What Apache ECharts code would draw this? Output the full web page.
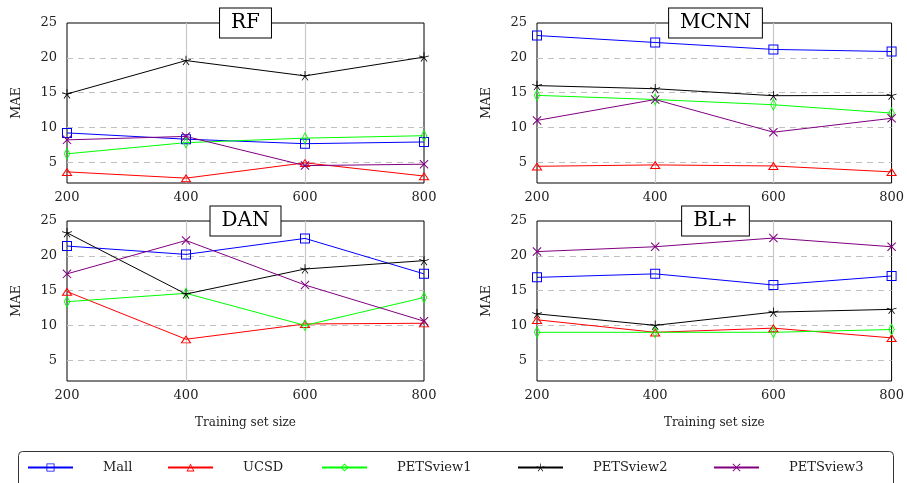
<!DOCTYPE html>
<html>
<head>
<meta charset="utf-8">
<script src="https://cdn.jsdelivr.net/npm/echarts@6/dist/echarts.min.js"></script>
<style>
  html, body { margin: 0; padding: 0; background: #fff; }
  #chart { width: 907px; height: 483px; }
</style>
</head>
<body>
<div id="chart"></div>
<script>
// 数据
var xValues = [200, 400, 600, 800];
var xTicks = [200, 400, 600, 800];
var yTicks = [5, 10, 15, 20, 25];
var seriesNames = ['Mall', 'UCSD', 'PETSview1', 'PETSview2', 'PETSview3'];
var panelTitles = ['RF', 'MCNN', 'DAN', 'BL+'];

// 每个面板: Mall, UCSD, PETSview1, PETSview2, PETSview3
var rfValues = [
    [9.2, 8.3, 7.65, 7.9],
    [3.6, 2.7, 4.9, 3.0],
    [6.2, 7.8, 8.45, 8.8],
    [14.8, 19.6, 17.4, 20.1],
    [8.2, 8.7, 4.5, 4.7]
];
var mcnnValues = [
    [23.2, 22.2, 21.2, 20.9],
    [4.4, 4.6, 4.45, 3.6],
    [14.6, 14.0, 13.25, 12.05],
    [16.0, 15.55, 14.55, 14.6],
    [11.0, 14.0, 9.3, 11.3]
];
var danValues = [
    [21.4, 20.2, 22.5, 17.4],
    [14.85, 8.0, 10.2, 10.3],
    [13.4, 14.6, 10.0, 14.0],
    [23.3, 14.5, 18.1, 19.3],
    [17.4, 22.2, 15.8, 10.6]
];
var blValues = [
    [16.9, 17.4, 15.8, 17.1],
    [10.8, 9.0, 9.6, 8.2],
    [9.0, 9.0, 9.0, 9.4],
    [11.65, 10.0, 11.9, 12.3],
    [20.6, 21.3, 22.55, 21.3]
];
var panelValues = [rfValues, mcnnValues, danValues, blValues];

var fontFamily = 'DejaVu Serif';
var colors = ['#0000ff', '#ff0000', '#00ff00', '#000000', '#800080'];

/* 星形/叉形标记 */
function armsPath(angles, w) {
    var d = '';
    function f(v) { return (v * 10).toFixed(3); }
    angles.forEach(function (a) {
        var r = a * Math.PI / 180;
        var cx = Math.cos(r), cy = -Math.sin(r);
        var px = -cy * w, py = cx * w;
        d += 'M' + f(px) + ' ' + f(py) +
            'L' + f(cx + px) + ' ' + f(cy + py) +
            'L' + f(cx - px) + ' ' + f(cy - py) +
            'L' + f(-px) + ' ' + f(-py) + 'Z';
    });
    return 'path://' + d;
}
var starPath = armsPath([90, 162, 234, 306, 18], 0.08);
var crossPath = armsPath([45, 135, 225, 315], 0.09);
// 空心标记 (外框 + 反向内框)
var squarePath = 'path://M0 0L10 0L10 10L0 10ZM1 1L1 9L9 9L9 1Z';
var trianglePath = 'path://M5 0L10 8.66L0 8.66ZM5 2.0L1.732 7.66L8.268 7.66Z';
var diamondPath = 'path://M4 0L8 5.5L4 11L0 5.5ZM4 1.6L1.15 5.5L4 9.4L6.85 5.5Z';
var symbols = [squarePath, trianglePath, diamondPath, starPath, crossPath];
var symbolSizes = [10, [11, 9.5], [9, 12.4], 10, 9];

var grids = [
    {left: 67, top: 23, width: 357, height: 160},
    {left: 537, top: 23, width: 357, height: 160},
    {left: 67, top: 221, width: 357, height: 160},
    {left: 537, top: 221, width: 357, height: 160}
];

var xAxes = [], yAxes = [], series = [], graphics = [], legends = [];

grids.forEach(function (g, p) {
    g.show = true;
    g.borderColor = '#000';
    g.borderWidth = 1;
    xAxes.push({
        type: 'value',
        gridIndex: p,
        min: 200,
        max: 800,
        interval: 200,
        axisLine: {show: false},
        axisTick: {show: false},
        axisLabel: {margin: 8, fontSize: 13, color: '#222', fontFamily: fontFamily},
        splitLine: {show: true, showMinLine: false, showMaxLine: false, lineStyle: {color: '#c8c8c8', width: 1.2}},
        name: p >= 2 ? 'Training set size' : '',
        nameLocation: 'middle',
        nameGap: 36,
        nameTextStyle: {fontSize: 12, color: '#222', fontFamily: fontFamily}
    });
    yAxes.push({
        type: 'value',
        gridIndex: p,
        min: 2,
        max: 25,
        axisLine: {show: false},
        axisTick: {show: false, customValues: yTicks},
        axisLabel: {margin: 10, fontSize: 13, color: '#222', fontFamily: fontFamily, customValues: yTicks},
        splitLine: {show: true, showMaxLine: false, lineStyle: {color: '#c0c0c0', width: 1, type: [6, 5]}},
        name: 'MAE',
        nameLocation: 'middle',
        nameRotate: 90,
        nameGap: 44,
        nameTextStyle: {fontSize: 13, color: '#222', fontFamily: fontFamily}
    });
    seriesNames.forEach(function (name, s) {
        var vals = panelValues[p][s];
        series.push({
            type: 'line',
            name: name,
            xAxisIndex: p,
            yAxisIndex: p,
            data: xValues.map(function (x, i) { return [x, vals[i]]; }),
            symbol: symbols[s],
            symbolSize: symbolSizes[s],
            symbolKeepAspect: true,
            clip: false,
            lineStyle: {width: 1, color: colors[s]},
            itemStyle: {color: colors[s], borderWidth: 0}
        });
    });
    // 标题框
    graphics.push({
        type: 'text',
        z: 100,
        x: g.left + g.width / 2,
        y: g.top,
        style: {
            text: panelTitles[p],
            align: 'center',
            verticalAlign: 'middle',
            font: '20px ' + fontFamily,
            fill: '#000',
            backgroundColor: '#fff',
            borderColor: '#000',
            borderWidth: 1,
            padding: [5, 11, 4, 11]
        }
    });
});

/* 图例 */
var legendLeft = [27, 167, 321, 517, 713];
seriesNames.forEach(function (name, i) {
    legends.push({
        data: [name],
        left: legendLeft[i],
        top: 461,
        padding: 0,
        itemWidth: 45,
        itemHeight: 10,
        textStyle: {fontSize: 13, color: '#222', fontFamily: fontFamily, padding: [0, 0, 0, 25]}
    });
});
graphics.push({
    type: 'rect',
    z: 0,
    shape: {x: 18.5, y: 451.5, width: 875, height: 40, r: 4},
    style: {fill: 'none', stroke: '#333', lineWidth: 1}
});

var myChart = echarts.init(document.getElementById('chart'));
var option = {
    animation: false,
    backgroundColor: '#fff',
    grid: grids,
    xAxis: xAxes,
    yAxis: yAxes,
    legend: legends,
    graphic: graphics,
    series: series
};
myChart.setOption(option);
</script>
</body>
</html>
